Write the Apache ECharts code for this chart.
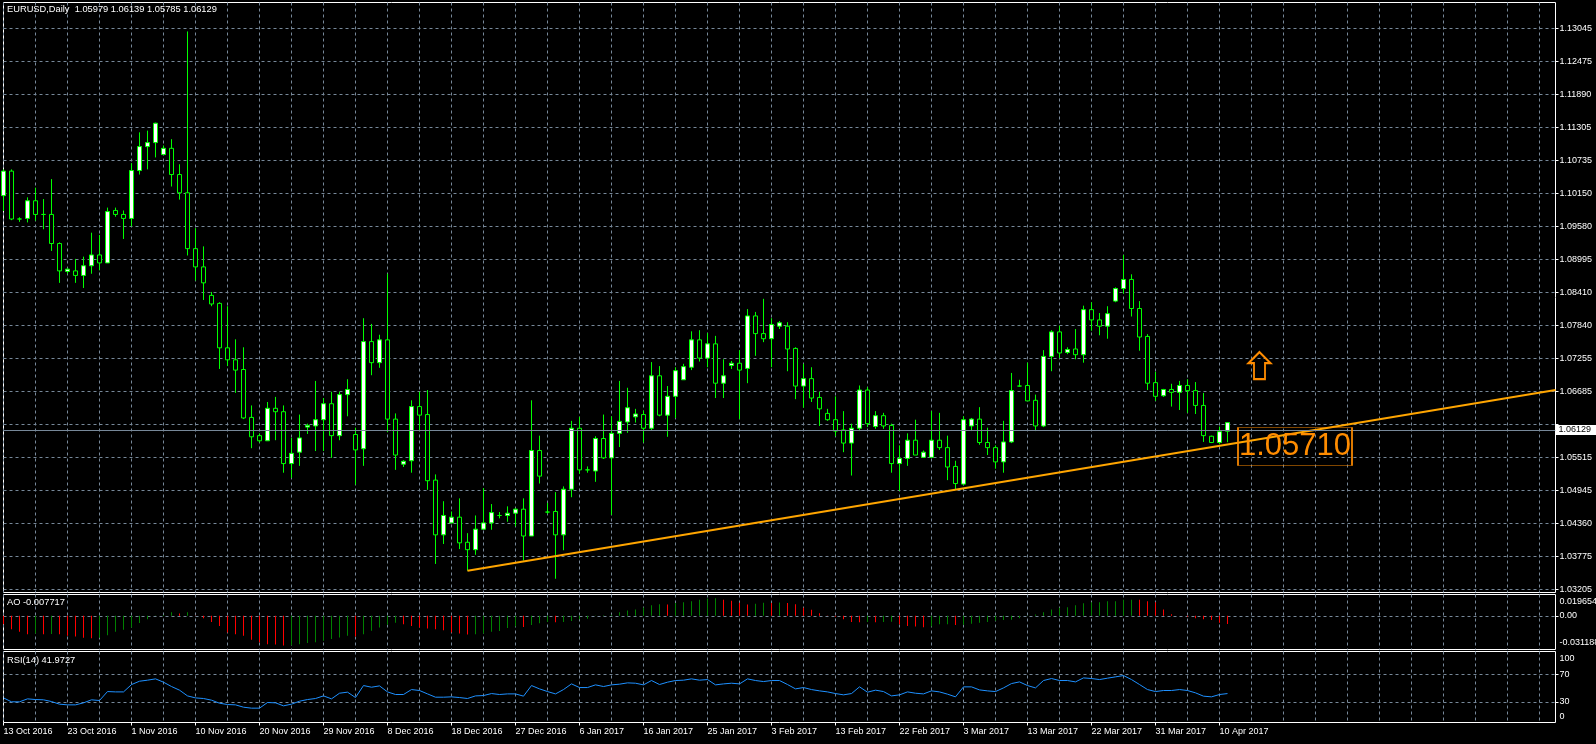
<!DOCTYPE html>
<html>
<head>
<meta charset="utf-8">
<script src="https://cdn.jsdelivr.net/npm/echarts@6/dist/echarts.min.js"></script>
<style>
html,body{margin:0;padding:0;background:#000;}
#chart{width:1596px;height:744px;}
</style>
</head>
<body>
<div id="chart"></div>
<script>
// ---------------- DATA ----------------
const symbolTitle = 'EURUSD,Daily';

const xTickLabels = ['13 Oct 2016','23 Oct 2016','1 Nov 2016','10 Nov 2016','20 Nov 2016','29 Nov 2016',
  '8 Dec 2016','18 Dec 2016','27 Dec 2016','6 Jan 2017','16 Jan 2017','25 Jan 2017','3 Feb 2017',
  '13 Feb 2017','22 Feb 2017','3 Mar 2017','13 Mar 2017','22 Mar 2017','31 Mar 2017','10 Apr 2017'];

const priceTickLabels = ['1.03205','1.03775','1.04360','1.04945','1.05515','','1.06685','1.07255',
  '1.07840','1.08410','1.08995','1.09580','1.10150','1.10735','1.11305','1.11890','1.12475','1.13045'];

const aoTickLabels = ['-0.031188','0.00','0.019654'];
const rsiTickLabels = ['0','30','70','100'];

// daily candles: [open, close, low, high]
const ohlc = [
[1.1011,1.1054,1.0984,1.1057],[1.1054,1.0970,1.0968,1.1057],[1.0970,1.0970,1.0965,1.0973],[1.0971,1.1002,1.0964,1.1008],
[1.1002,1.0978,1.0967,1.1025],[1.0978,1.0978,1.0952,1.1005],[1.0978,1.0927,1.0914,1.1040],[1.0927,1.0879,1.0858,1.0929],
[1.0878,1.0882,1.0874,1.0884],[1.0879,1.0871,1.0858,1.0900],[1.0871,1.0888,1.0849,1.0904],[1.0888,1.0907,1.0874,1.0946],
[1.0907,1.0893,1.0880,1.0942],[1.0893,1.0983,1.0893,1.0990],[1.0985,1.0978,1.0974,1.0990],[1.0978,1.0971,1.0935,1.0985],
[1.0971,1.1055,1.0957,1.1068],[1.1055,1.1097,1.1048,1.1122],[1.1097,1.1104,1.1057,1.1125],[1.1104,1.1138,1.1078,1.1139],
[1.1083,1.1094,1.1083,1.1099],[1.1094,1.1048,1.1027,1.1110],[1.1048,1.1016,1.1004,1.1066],[1.1016,1.0918,1.0906,1.1299],
[1.0918,1.0886,1.0862,1.0954],[1.0886,1.0858,1.0828,1.0922],[1.0836,1.0821,1.0817,1.0842],[1.0822,1.0744,1.0707,1.0824],
[1.0744,1.0723,1.0712,1.0817],[1.0723,1.0705,1.0665,1.0759],[1.0706,1.0621,1.0619,1.0745],[1.0622,1.0588,1.0568,1.0643],
[1.0590,1.0581,1.0578,1.0594],[1.0581,1.0638,1.0581,1.0649],[1.0638,1.0632,1.0582,1.0658],[1.0632,1.0541,1.0525,1.0643],
[1.0541,1.0559,1.0516,1.0586],[1.0561,1.0586,1.0537,1.0627],[1.0605,1.0608,1.0593,1.0611],[1.0607,1.0618,1.0563,1.0686],
[1.0618,1.0646,1.0563,1.0656],[1.0646,1.0590,1.0551,1.0667],[1.0590,1.0662,1.0582,1.0667],[1.0662,1.0671,1.0624,1.0689],
[1.0592,1.0565,1.0504,1.0604],[1.0567,1.0755,1.0537,1.0796],[1.0755,1.0718,1.0696,1.0786],[1.0718,1.0758,1.0709,1.0767],
[1.0758,1.0619,1.0596,1.0874],[1.0619,1.0556,1.0530,1.0629],[1.0540,1.0545,1.0535,1.0547],[1.0546,1.0641,1.0525,1.0652],
[1.0641,1.0626,1.0598,1.0667],[1.0627,1.0511,1.0495,1.0670],[1.0512,1.0416,1.0365,1.0522],[1.0416,1.0450,1.0400,1.0475],
[1.0437,1.0447,1.0436,1.0457],[1.0447,1.0402,1.0391,1.0480],[1.0403,1.0390,1.0353,1.0419],[1.0390,1.0426,1.0381,1.0450],
[1.0426,1.0437,1.0425,1.0498],[1.0437,1.0455,1.0425,1.0470],[1.0450,1.0450,1.0445,1.0456],[1.0450,1.0454,1.0439,1.0466],
[1.0454,1.0461,1.0431,1.0463],[1.0461,1.0414,1.0371,1.0480],[1.0414,1.0564,1.0414,1.0652],[1.0564,1.0519,1.0506,1.0590],
[1.0456,1.0456,1.0453,1.0472],[1.0457,1.0416,1.0339,1.0491],[1.0416,1.0496,1.0389,1.0501],[1.0496,1.0603,1.0482,1.0616],
[1.0603,1.0530,1.0523,1.0623],[1.0530,1.0530,1.0525,1.0536],[1.0528,1.0585,1.0509,1.0589],[1.0585,1.0551,1.0549,1.0627],
[1.0551,1.0594,1.0451,1.0624],[1.0594,1.0615,1.0570,1.0686],[1.0614,1.0639,1.0595,1.0674],[1.0623,1.0628,1.0613,1.0637],
[1.0627,1.0603,1.0578,1.0634],[1.0603,1.0695,1.0600,1.0719],[1.0695,1.0626,1.0624,1.0712],[1.0626,1.0659,1.0588,1.0677],
[1.0659,1.0704,1.0621,1.0710],[1.0688,1.0711,1.0688,1.0716],[1.0710,1.0758,1.0705,1.0773],[1.0758,1.0726,1.0720,1.0775],
[1.0726,1.0751,1.0710,1.0770],[1.0751,1.0682,1.0656,1.0765],[1.0682,1.0695,1.0656,1.0724],[1.0713,1.0717,1.0707,1.0721],
[1.0717,1.0705,1.0619,1.0740],[1.0708,1.0800,1.0682,1.0812],[1.0800,1.0769,1.0730,1.0807],[1.0769,1.0760,1.0754,1.0830],
[1.0760,1.0785,1.0710,1.0796],[1.0782,1.0788,1.0777,1.0791],[1.0782,1.0742,1.0703,1.0789],[1.0743,1.0677,1.0654,1.0745],
[1.0677,1.0690,1.0639,1.0716],[1.0690,1.0656,1.0649,1.0710],[1.0657,1.0637,1.0607,1.0667],[1.0629,1.0618,1.0616,1.0637],
[1.0618,1.0598,1.0589,1.0659],[1.0600,1.0577,1.0561,1.0633],[1.0577,1.0603,1.0520,1.0611],[1.0603,1.0670,1.0598,1.0678],
[1.0670,1.0611,1.0605,1.0675],[1.0606,1.0625,1.0602,1.0633],[1.0625,1.0607,1.0602,1.0630],[1.0608,1.0541,1.0525,1.0611],
[1.0541,1.0550,1.0493,1.0573],[1.0550,1.0582,1.0537,1.0594],[1.0582,1.0556,1.0556,1.0618],[1.0552,1.0561,1.0552,1.0564],
[1.0552,1.0582,1.0552,1.0633],[1.0582,1.0569,1.0565,1.0630],[1.0569,1.0535,1.0512,1.0590],[1.0536,1.0506,1.0496,1.0546],
[1.0505,1.0618,1.0503,1.0624],[1.0607,1.0619,1.0598,1.0621],[1.0619,1.0578,1.0574,1.0640],[1.0578,1.0569,1.0556,1.0604],
[1.0569,1.0544,1.0532,1.0573],[1.0544,1.0579,1.0525,1.0616],[1.0579,1.0669,1.0577,1.0700],[1.0677,1.0677,1.0676,1.0688],
[1.0678,1.0651,1.0651,1.0718],[1.0652,1.0607,1.0598,1.0662],[1.0607,1.0729,1.0605,1.0740],[1.0729,1.0772,1.0703,1.0775],
[1.0772,1.0735,1.0726,1.0783],[1.0736,1.0741,1.0733,1.0745],[1.0742,1.0732,1.0724,1.0777],[1.0732,1.0811,1.0718,1.0818],
[1.0811,1.0793,1.0774,1.0824],[1.0793,1.0782,1.0766,1.0805],[1.0782,1.0804,1.0760,1.0817],[1.0826,1.0848,1.0824,1.0850],
[1.0848,1.0864,1.0839,1.0907],[1.0864,1.0813,1.0799,1.0873],[1.0813,1.0763,1.0739,1.0826],[1.0764,1.0682,1.0670,1.0768],
[1.0683,1.0659,1.0651,1.0702],[1.0660,1.0671,1.0658,1.0672],[1.0671,1.0666,1.0641,1.0681],[1.0666,1.0678,1.0635,1.0686],
[1.0678,1.0669,1.0630,1.0689],[1.0669,1.0643,1.0628,1.0684],[1.0643,1.0590,1.0579,1.0665],[1.0589,1.0578,1.0577,1.0590],
[1.0578,1.0597,1.0575,1.0606],[1.05979,1.06129,1.05785,1.06139]
];

// Awesome Oscillator histogram values
const ao = [
-0.0079,-0.0124,-0.0148,-0.0170,-0.0165,-0.0170,-0.0168,-0.0172,-0.0185,-0.0191,-0.0203,-0.0209,-0.0203,-0.0179,-0.0148,-0.0130,
-0.0109,-0.0067,-0.0033,0.0003,0.0006,0.0033,0.0021,0.0033,0.0002,-0.0024,-0.0058,-0.0094,-0.0154,-0.0170,-0.0185,-0.0221,
-0.0245,-0.0263,-0.0266,-0.0275,-0.0272,-0.0263,-0.0251,-0.0245,-0.0230,-0.0215,-0.0200,-0.0185,-0.0191,-0.0170,-0.0139,-0.0109,
-0.0082,-0.0064,-0.0079,-0.0094,-0.0109,-0.0118,-0.0124,-0.0133,-0.0154,-0.0163,-0.0173,-0.0170,-0.0163,-0.0148,-0.0142,-0.0112,
-0.0100,-0.0103,-0.0085,-0.0070,-0.0058,-0.0060,-0.0057,-0.0048,-0.0033,-0.0027,0.0002,0.0005,0.0009,0.0033,0.0048,0.0058,
0.0076,0.0097,0.0106,0.0104,0.0118,0.0124,0.0133,0.0148,0.0160,0.0161,0.0148,0.0139,0.0121,0.0103,0.0110,0.0121,
0.0118,0.0122,0.0118,0.0106,0.0073,0.0055,0.0024,0.0003,-0.0009,-0.0033,-0.0058,-0.0060,-0.0057,-0.0060,-0.0057,-0.0055,
-0.0079,-0.0094,-0.0100,-0.0106,-0.0100,-0.0079,-0.0078,-0.0085,-0.0083,-0.0073,-0.0064,-0.0058,-0.0045,-0.0039,-0.0036,-0.0024,
-0.0003,0.0012,0.0033,0.0058,0.0073,0.0079,0.0097,0.0115,0.0124,0.0125,0.0133,0.0135,0.0148,0.0149,0.0147,0.0133,
0.0124,0.0058,0.0015,0.0001,-0.0009,-0.0024,-0.0033,-0.0039,-0.0064,-0.007717
];

// RSI(14)
const rsi = [
35.7,30.0,30.0,34.3,33.3,32.9,30.4,26.6,25.6,25.6,28.5,32.9,31.9,44.9,44.4,44.4,55.0,59.9,61.4,63.3,
58.5,52.2,46.9,38.6,35.7,34.8,32.4,28.0,26.1,25.6,22.2,20.8,20.8,29.0,28.5,24.2,26.6,30.9,33.3,34.8,
38.6,34.3,42.5,44.0,36.2,53.6,51.2,53.1,44.4,40.6,40.6,47.8,46.4,41.5,36.7,36.7,37.2,36.2,34.8,38.6,
39.1,42.0,40.6,41.5,41.5,38.2,53.6,48.8,44.9,41.5,47.8,56.0,50.7,50.7,54.6,52.2,54.6,55.6,57.5,57.0,
54.6,60.9,55.1,58.5,60.9,61.4,63.3,61.4,62.3,54.6,56.0,57.0,56.0,63.3,60.9,59.4,60.9,60.9,55.1,48.8,
50.7,47.8,45.9,44.4,42.0,40.1,42.0,51.7,44.0,46.9,44.9,38.6,40.1,44.4,42.5,41.5,45.9,44.4,41.1,37.2,
51.7,51.7,47.3,45.9,44.9,50.2,56.5,58.9,53.6,50.2,60.9,63.8,60.9,60.9,58.9,64.7,63.8,62.3,64.3,66.2,
68.1,62.3,55.1,47.8,44.9,46.4,46.4,47.8,46.4,43.0,38.2,37.2,40.6,41.9727
];

// trend line: [bar index, price]
const trendLine = [[58, 1.0353], [194, 1.0670]];
// up-arrow object: [bar index, price]
const arrowMark = [157, 1.0713];
// price label object
const priceLabel = { bar: 161, price: 1.05710 };

// ---------------- CATEGORIES (daily bars incl. Sunday, no Saturday) ----------------
const MONTHS = ['Jan','Feb','Mar','Apr','May','Jun','Jul','Aug','Sep','Oct','Nov','Dec'];
const totalSlots = 195;
const categories = [];
(function () {
  const d = new Date(Date.UTC(2016, 9, 13));
  while (categories.length < totalSlots) {
    if (d.getUTCDay() !== 6) categories.push(d.getUTCDate() + ' ' + MONTHS[d.getUTCMonth()] + ' ' + d.getUTCFullYear());
    d.setUTCDate(d.getUTCDate() + 1);
  }
})();

// ---------------- STYLE ----------------
const FONT = 'Liberation Sans';
const FS = 9;
const TITLE_FS = 9.3;
const GRID_COLOR = '#778899';
const dash = { color: GRID_COLOR, width: 1, type: [3, 3] };
const txt = { color: '#ffffff', fontFamily: FONT, fontSize: FS };
const titleTxt = { color: '#ffffff', fontFamily: FONT, fontSize: TITLE_FS, fontWeight: 'normal' };

const priceLo = parseFloat(priceTickLabels[0]);
const priceHi = parseFloat(priceTickLabels[priceTickLabels.length - 1]);
const nSteps = priceTickLabels.length - 1;
const priceStep = (priceHi - priceLo) / nSteps;
const priceGrid = priceTickLabels.map((_, k) => priceLo + k * priceStep);

const last = ohlc[ohlc.length - 1];
const header = symbolTitle + '  ' + [last[0], last[3], last[2], last[1]].map(v => v.toFixed(5)).join(' ');
const lastClose = last[1];

const labelEvery = 8, gridEvery = 4;
const isLabelIdx = (idx) => idx % labelEvery === 0 && idx / labelEvery < xTickLabels.length;

const xAxes = [0, 1, 2].map(i => ({
  type: 'category', gridIndex: i, data: categories, boundaryGap: false,
  axisLine: { show: false },
  axisTick: i === 2 ? { show: true, length: 3, interval: isLabelIdx, lineStyle: { color: '#ffffff' } } : { show: false },
  axisLabel: i === 2 ? Object.assign({ show: true, interval: isLabelIdx, align: 'left', margin: 5,
      formatter: (v, idx) => xTickLabels[idx / labelEvery] || '' }, txt) : { show: false },
  splitLine: { show: true, interval: (idx) => idx % gridEvery === 0, lineStyle: dash }
}));

const aoMin = parseFloat(aoTickLabels[0]), aoMax = parseFloat(aoTickLabels[2]);

const gridBase = { left: 3.5, width: 1552, show: true, borderColor: '#ffffff', borderWidth: 1,
  backgroundColor: 'transparent', containLabel: false, outerBoundsMode: 'none' };

const option = {
  backgroundColor: '#000000',
  animation: false,
  title: [
    { text: header, left: 7, top: 5, padding: 0, textStyle: titleTxt },
    { text: 'AO ' + ao[ao.length - 1].toFixed(6), left: 7, top: 598, padding: 0, textStyle: titleTxt },
    { text: 'RSI(14) ' + rsi[rsi.length - 1].toFixed(4), left: 7, top: 656, padding: 0, textStyle: titleTxt }
  ],
  grid: [
    Object.assign({ top: 2.5, height: 590 }, gridBase),
    Object.assign({ top: 594.5, height: 55 }, gridBase),
    Object.assign({ top: 651.5, height: 71 }, gridBase)
  ],
  xAxis: xAxes,
  yAxis: [
    { type: 'value', gridIndex: 0, position: 'right', min: 1.031489, max: 1.134975,
      axisLine: { show: false },
      axisTick: { show: true, length: 3, customValues: priceGrid, lineStyle: { color: '#ffffff' } },
      axisLabel: Object.assign({ show: true, customValues: priceGrid, margin: 4,
        formatter: v => priceTickLabels[Math.round((v - priceLo) / priceStep)] }, txt),
      splitLine: { show: true, lineStyle: dash } },
    { type: 'value', gridIndex: 1, position: 'right', min: aoMin, max: aoMax,
      axisLine: { show: false },
      axisTick: { show: true, length: 3, customValues: [0], lineStyle: { color: '#ffffff' } },
      axisLabel: Object.assign({ show: true, customValues: [-0.025179, 0, 0.012721], margin: 4,
        formatter: v => v > 0.005 ? aoTickLabels[2] : (v < -0.005 ? aoTickLabels[0] : aoTickLabels[1]) }, txt),
      splitLine: { show: true, lineStyle: dash } },
    { type: 'value', gridIndex: 2, position: 'right', min: 0, max: 103,
      axisLine: { show: false },
      axisTick: { show: true, length: 3, customValues: [30, 70], lineStyle: { color: '#ffffff' } },
      axisLabel: Object.assign({ show: true, customValues: [9.0, 30, 70, 92.1], margin: 4,
        formatter: v => v < 20 ? rsiTickLabels[0] : (v > 80 ? rsiTickLabels[3] : (v < 50 ? rsiTickLabels[1] : rsiTickLabels[2])) }, txt),
      splitLine: { show: true, lineStyle: dash } }
  ],
  series: [
    {
      type: 'candlestick', xAxisIndex: 0, yAxisIndex: 0, data: ohlc, barWidth: 4, clip: true, silent: true,
      itemStyle: { color: '#ffffff', color0: '#000000', borderColor: '#00ff00', borderColor0: '#00ff00', borderColorDoji: '#00ff00', borderWidth: 1 },
      markLine: {
        silent: true, symbol: 'none', animation: false,
        data: [{ yAxis: lastClose }],
        lineStyle: { color: GRID_COLOR, type: 'solid', width: 1 },
        label: { show: true, position: 'end', distance: 0, formatter: lastClose.toFixed(5),
          backgroundColor: '#ffffff', color: '#000000', padding: [1, 8, 0, 3], fontFamily: FONT, fontSize: FS }
      }
    },
    {
      type: 'line', xAxisIndex: 0, yAxisIndex: 0, data: trendLine, symbol: 'none', silent: true, clip: true,
      lineStyle: { color: '#FFA500', width: 2 },
      markPoint: {
        silent: true, animation: false,
        data: [
          { coord: arrowMark, symbol: 'path://M11,0 L22,11 L16.5,11 L16.5,27 L5.5,27 L5.5,11 L0,11 Z', symbolSize: [22, 27],
            itemStyle: { color: 'rgba(0,0,0,0)', borderColor: '#FF8C00', borderWidth: 2 }, label: { show: false } },
          { coord: [priceLabel.bar, priceLabel.price], value: priceLabel.price, symbol: 'rect', symbolSize: [114, 38], symbolOffset: [3.5, 0],
            itemStyle: { color: 'rgba(0,0,0,0)', borderColor: '#FF8C00', borderWidth: 1 },
            label: { show: true, position: 'inside', formatter: priceLabel.price.toFixed(5), color: '#FF8C00', fontSize: 31, fontFamily: FONT } }
        ]
      }
    },
    {
      type: 'bar', xAxisIndex: 1, yAxisIndex: 1, barWidth: 1, silent: true,
      data: ao.map((v, i) => ({ value: v, itemStyle: { color: (i === 0 || v < ao[i - 1]) ? '#FF0000' : '#008000' } }))
    },
    {
      type: 'line', xAxisIndex: 2, yAxisIndex: 2, data: rsi, symbol: 'none', silent: true,
      lineStyle: { color: '#1E90FF', width: 1 }
    }
  ]
};

const chart = echarts.init(document.getElementById('chart'), null, { renderer: 'canvas' });
chart.setOption(option);
</script>
</body>
</html>
